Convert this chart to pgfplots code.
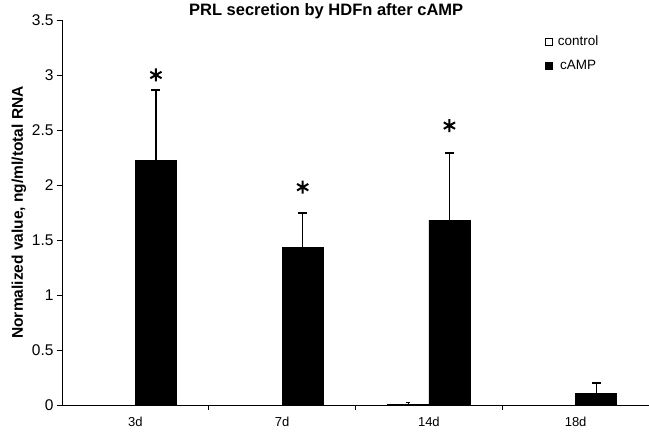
\documentclass[border=0pt]{standalone}
\usepackage{pgfplots}
\pgfplotsset{compat=1.18}
\usepackage{fontspec}
\setmainfont{Liberation Sans}

\begin{document}
\begin{tikzpicture}
\begin{axis}[
    width=587pt, height=385pt, scale only axis,
    xmin=0.5, xmax=4.5, ymin=0, ymax=3.5,
    axis lines*=left,
    axis line style={line width=0.8pt},
    xtick={1,2,3,4}, xticklabels={3d,7d,14d,18d},
    major x tick style={draw=none},
    minor xtick={1.5,2.5,3.5},
    ytick={0,0.5,...,3.5},
    tick align=outside, tick style={black, line width=0.8pt},
    major tick length=5pt, minor tick length=5pt,
    yticklabel style={/pgf/number format/fixed, /pgf/number format/precision=1,
        font=\fontsize{15.5}{17}\selectfont},
    xticklabel style={yshift=-4pt, font=\fontsize{13}{15}\selectfont},
    /pgf/number format/assume math mode=true,
    ylabel={\bfseries Normalized value, ng/ml/total RNA},
    ylabel style={font=\fontsize{15.5}{17}\selectfont, yshift=-1pt},
    title={\bfseries PRL secretion by HDFn after cAMP},
    title style={font=\fontsize{16.5}{18}\selectfont, at={(0.45,1)}, anchor=base, yshift=-2pt},
    legend style={at={(0.818,0.97)}, anchor=north west, draw=none, fill=none,
        font=\fontsize{13.5}{15}\selectfont, row sep=9pt},
    legend image code/.code={\draw[#1, line width=0.6pt] (0pt,-3.5pt) rectangle (7pt,3.5pt); \path (10pt,0);},
    clip=false,
]
% bars placed at their own x (group centre -/+ 0.14)
\addplot[ybar, bar width=0.28, bar shift=0pt, fill=white, draw=black, line width=0.6pt,
    error bars/.cd, y dir=plus, y explicit,
    error bar style={black, line width=0.8pt},
    error mark options={rotate=90, mark size=2pt, black, line width=0.8pt}]
    coordinates {(0.86,0) +- (0,0) (1.86,0) +- (0,0) (2.86,0.01) +- (0,0.01) (3.86,0) +- (0,0)};
\addlegendentry{control}
\addplot[ybar, bar width=0.28, bar shift=0pt, fill=black, draw=black, line width=0.6pt,
    error bars/.cd, y dir=plus, y explicit,
    error bar style={black, line width=1.3pt},
    error mark options={rotate=90, mark size=4.5pt, black, line width=1.5pt}]
    coordinates {(1.14,2.225) +- (0,0.64) (2.14,1.43) +- (0,0.315) (3.14,1.68) +- (0,0.61) (4.14,0.105) +- (0,0.095)};
\addlegendentry{cAMP}
% significance asterisks
\addplot[only marks, mark=asterisk, mark size=6.5pt, line width=2pt, black, forget plot]
    coordinates {(1.14,3.0) (2.14,1.98) (3.14,2.54)};
\end{axis}
\pgfresetboundingbox
\path ([shift={(-62pt,-35pt)}]current axis.south west) rectangle ([shift={(0pt,20pt)}]current axis.north east);
\end{tikzpicture}
\end{document}
